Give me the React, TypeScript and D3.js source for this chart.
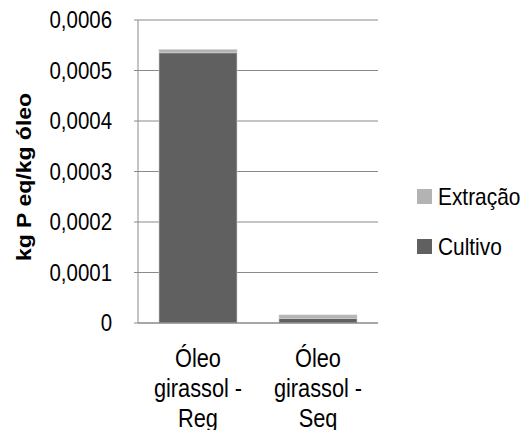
import React from "react";
import * as d3 from "d3";

const categories = [["Óleo", "girassol -", "Reg"], ["Óleo", "girassol -", "Seq"]];
const cultivo = [0.000535, 0.0000085];
const extracao = [0.0000065, 0.0000075];
const yTicks = [0, 0.0001, 0.0002, 0.0003, 0.0004, 0.0005, 0.0006];
const seriesNames = ["Extração", "Cultivo"];

const FONT = "'Liberation Sans', Arial, sans-serif";
const SQUEEZE = 0.87;

function Label(props: {
  x: number;
  y: number;
  size: number;
  anchor?: "start" | "middle" | "end";
  bold?: boolean;
  rotate?: number;
  children: React.ReactNode;
}) {
  const { x, y, size, anchor = "start", bold, rotate = 0, children } = props;
  return (
    <text
      transform={`translate(${x},${y}) scale(${SQUEEZE},1) rotate(${rotate})`}
      textAnchor={anchor}
      fontSize={size}
      fontWeight={bold ? "bold" : "normal"}
      fill="#000"
    >
      {children}
    </text>
  );
}

export default function App() {
  const left = 138, right = 378, top = 20, bottom = 323;
  const x = d3.scaleBand<number>().domain([0, 1]).range([left, right]).paddingInner(0.35).paddingOuter(0.175);
  const y = d3.scaleLinear().domain([0, 0.0006]).range([bottom, top]);
  const fmt = (v: number) => (v === 0 ? "0" : v.toFixed(4).replace(".", ","));
  const colors = { cultivo: "#606060", extracao: "#b3b3b3" };
  const grid = "#8a8a8a";

  return (
    <svg width={524} height={430} style={{ position: "absolute", left: 0, top: 0 }} fontFamily={FONT}>
      <rect width={524} height={430} fill="#fff" />
      {yTicks.map((t) => (
        <g key={t}>
          {t > 0 && <line x1={left} x2={right} y1={y(t)} y2={y(t)} stroke={grid} strokeWidth={1} />}
          <line x1={left - 4} x2={left} y1={y(t)} y2={y(t)} stroke={grid} strokeWidth={1} />
          <Label x={112} y={y(t) + 8} size={23.5} anchor="end">{fmt(t)}</Label>
        </g>
      ))}
      {categories.map((_, i) => {
        const bx = x(i)!;
        const w = x.bandwidth();
        return (
          <g key={i}>
            <rect x={bx} width={w} y={y(cultivo[i])} height={y(0) - y(cultivo[i])} fill={colors.cultivo} stroke="#d0d0d0" strokeWidth={0.6} />
            <rect x={bx} width={w} y={y(cultivo[i] + extracao[i])} height={y(cultivo[i]) - y(cultivo[i] + extracao[i])} fill={colors.extracao} stroke="#d0d0d0" strokeWidth={0.6} />
          </g>
        );
      })}
      <line x1={left} x2={left} y1={top} y2={bottom} stroke={grid} strokeWidth={1} />
      <line x1={left} x2={right} y1={bottom} y2={bottom} stroke={grid} strokeWidth={1.5} />
      {categories.map((lines, i) =>
        lines.map((l, j) => (
          <Label key={`${i}-${j}`} x={x(i)! + x.bandwidth() / 2} y={367 + j * 30} size={25} anchor="middle">{l}</Label>
        ))
      )}
      <Label x={31} y={177} size={23} anchor="middle" bold rotate={-90}>kg P eq/kg óleo</Label>
      {seriesNames.map((n, i) => (
        <g key={n}>
          <rect x={417} y={189 + i * 50} width={15} height={15} fill={i === 0 ? colors.extracao : colors.cultivo} />
          <Label x={438} y={205 + i * 50} size={24}>{n}</Label>
        </g>
      ))}
    </svg>
  );
}
